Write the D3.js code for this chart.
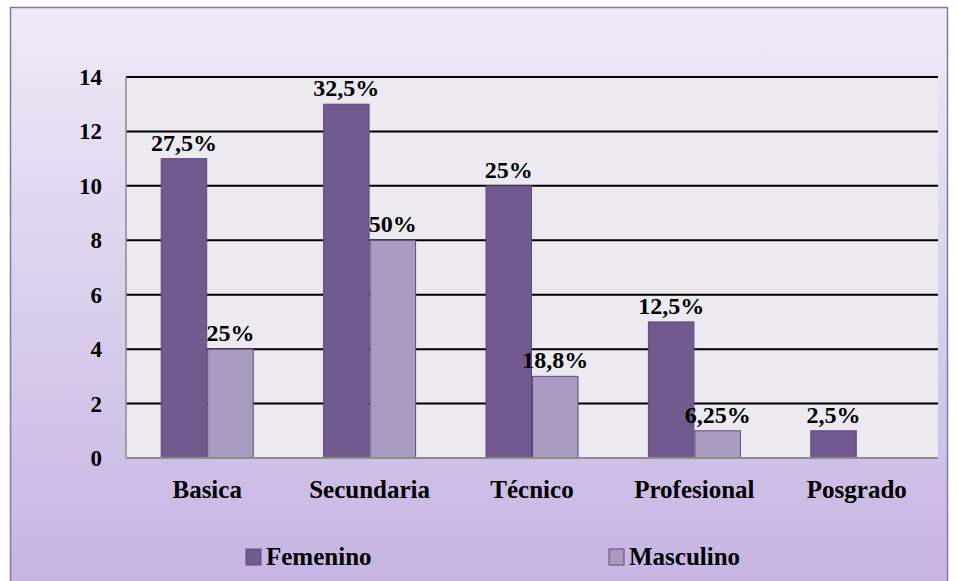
<!DOCTYPE html>
<html>
<head>
<meta charset="utf-8">
<script src="https://cdn.jsdelivr.net/npm/d3@7"></script>
<style>
  body { margin: 0; background: #fff; }
</style>
</head>
<body>
<div id="chart"></div>
<script>
const categories = ["Basica", "Secundaria", "Técnico", "Profesional", "Posgrado"];
const seriesNames = ["Femenino", "Masculino"];
const femenino = [11, 13, 10, 5, 1];
const masculino = [4, 8, 3, 1, null];
const femeninoLabels = ["27,5%", "32,5%", "25%", "12,5%", "2,5%"];
const masculinoLabels = ["25%", "50%", "18,8%", "6,25%", null];
const yTicks = [0, 2, 4, 6, 8, 10, 12, 14];

const colors = { Femenino: "#725a8f", Masculino: "#a99bbf" };
const FONT = "Liberation Serif";

const W = 958, H = 581;
const svg = d3.select("#chart").append("svg").attr("width", W).attr("height", H);

const defs = svg.append("defs");
const grad = defs.append("linearGradient").attr("id", "bg").attr("x1", 0).attr("y1", 0).attr("x2", 0).attr("y2", 1);
grad.append("stop").attr("offset", "0%").attr("stop-color", "#efeaf7");
grad.append("stop").attr("offset", "100%").attr("stop-color", "#c6b4e3");

svg.append("rect")
  .attr("x", 10.5).attr("y", 7.5).attr("width", 937).attr("height", 580)
  .attr("fill", "url(#bg)").attr("stroke", "#8a74a8").attr("stroke-width", 1.5);

const margin = { left: 126, right: 20, top: 77, bottom: 123 };
const width = W - margin.left - margin.right;
const height = H - margin.top - margin.bottom;
const g = svg.append("g").attr("transform", `translate(${margin.left},${margin.top})`);

const x = d3.scaleBand().domain(categories).range([0, width]);
const xSub = d3.scaleBand().domain(seriesNames).range([0, 93]);
const y = d3.scaleLinear().domain([0, 14]).range([height, 0]);

function label(sel, size) {
  return sel.attr("font-family", FONT).attr("font-weight", "bold").attr("font-size", size).attr("fill", "#000");
}

g.append("rect").attr("width", width).attr("height", height).attr("fill", "#ece9f0");

g.selectAll(".grid").data(yTicks.filter(d => d > 0)).join("line")
  .attr("x1", 0).attr("x2", width)
  .attr("y1", d => y(d)).attr("y2", d => y(d))
  .attr("stroke", "#000").attr("stroke-width", 2);

g.append("line").attr("x1", 0).attr("x2", 0).attr("y1", 0).attr("y2", height)
  .attr("stroke", "#8c8c8c").attr("stroke-width", 1.5);

const rows = categories.map((c, i) => ({
  cat: c,
  values: [
    { key: "Femenino", v: femenino[i], label: femeninoLabels[i] },
    { key: "Masculino", v: masculino[i], label: masculinoLabels[i] }
  ].filter(d => d.v != null)
}));

const groups = g.selectAll(".grp").data(rows).join("g")
  .attr("transform", d => `translate(${x(d.cat) + x.bandwidth() / 2 - 46.5},0)`);

groups.selectAll("rect").data(d => d.values).join("rect")
  .attr("x", d => xSub(d.key) + 0.5)
  .attr("y", d => y(d.v))
  .attr("width", xSub.bandwidth() - 1)
  .attr("height", d => height - y(d.v))
  .attr("fill", d => colors[d.key])
  .attr("stroke", "#5e4a7a").attr("stroke-width", 1);

label(groups.selectAll("text").data(d => d.values).join("text"), 24)
  .attr("x", d => xSub(d.key) + xSub.bandwidth() / 2)
  .attr("y", d => y(d.v) - 8)
  .attr("text-anchor", "middle")
  .text(d => d.label);

g.append("line").attr("x1", 0).attr("x2", width).attr("y1", height).attr("y2", height)
  .attr("stroke", "#8c8c8c").attr("stroke-width", 2);

label(g.selectAll(".ytick").data(yTicks).join("text"), 23)
  .attr("x", -24).attr("y", d => y(d) + 8)
  .attr("text-anchor", "end")
  .text(d => d);

label(g.selectAll(".xlab").data(categories).join("text"), 25)
  .attr("x", d => x(d) + x.bandwidth() / 2)
  .attr("y", height + 40)
  .attr("text-anchor", "middle")
  .text(d => d);

const legendX = [246, 609];
const legend = svg.selectAll(".leg").data(seriesNames).join("g")
  .attr("transform", (d, i) => `translate(${legendX[i]},549)`);
legend.append("rect").attr("width", 15).attr("height", 16)
  .attr("fill", d => colors[d]).attr("stroke", "#5e4a7a").attr("stroke-width", 1);
label(legend.append("text"), 25).attr("x", 20).attr("y", 16).text(d => d);
</script>
</body>
</html>
